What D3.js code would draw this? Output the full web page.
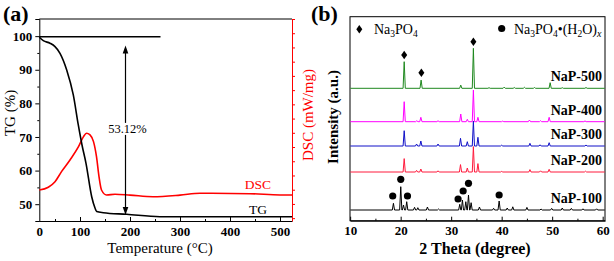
<!DOCTYPE html>
<html><head><meta charset="utf-8">
<script src="https://cdn.jsdelivr.net/npm/d3@7"></script>
<style>
body{margin:0;background:#fff}
svg{display:block}
text{font-family:"Liberation Serif","Times New Roman",serif}
</style>
</head><body>
<svg id="c" width="614" height="261"></svg>
<script>
// ---------- Panel (a): TG / DSC ----------
const tgTemp  = [18.6,26.6,40,50,60,73.4,86.6,96.6,104,112,123.4,130,133.4,146.6,193.4,260,524];
const tgValue = [99.67,98.66,97.89,96.88,94.9,89.94,82.5,73.57,67.62,62.17,52.23,48.87,47.83,47.47,47.0,46.28,46.28];
const dscTemp  = [18.6,36.6,50,63,80,97,107,113,120,127,133,138,143,153,170,200,246,300,340,440,500,524];
const dscValue = [1.98,2.17,2.56,3.27,4.09,5.02,5.73,5.97,5.85,5.38,4.32,2.92,1.98,1.63,1.68,1.62,1.51,1.62,1.75,1.72,1.63,1.63];
const tempTickValues = [18.6,100,200,300,400,500];
const tempTickLabels = ["0","100","200","300","400","500"];
const tgTicks = [50,60,70,80,90,100];
const refLineTemp = [18.6,261];
const refLineTG = 99.8;
const arrowTemp = 191, arrowTop = 97.2, arrowBottom = 46.8, lossLabelTG = 72.4;
const massLoss = "53.12%";
const curveLabelTemp = 456;

// ---------- Panel (b): XRD ----------
const thetaTicks = [10,20,30,40,50,60];
const sampleNames = ["NaP-100","NaP-200","NaP-300","NaP-400","NaP-500"];
const sampleOffsets = [5.35,24.35,37.35,49.5,66.2];
const peaks100 = [[18.57,3.35],[20.02,11.65],[20.56,2.5],[21.2,4.15],[22.75,1.35],[23.4,1.15],[25.3,1.5],[27.5,0.5],[31.7,2.85],[32.23,5],[32.9,4.15],[33.43,7.5],[33.95,3.65],[35.6,1.5],[38.4,0.85],[39.5,4.5],[41.1,1],[42.2,1.6],[45.0,1.3],[47.8,0.5],[49.9,0.8],[52.0,1],[53.8,0.8],[56.1,0.6],[58.8,0.6]];
const peaks200 = [[20.7,6.7],[23.15,0.8],[24.0,1.5],[27.4,0.6],[31.85,3.7],[33.2,2.0],[34.4,12.7],[35.3,4.2],[40.0,0.3],[45.6,1.2],[47.7,0.6],[49.4,1.35],[56.6,0.4]];
const peaks300 = [[20.7,7.65],[23.15,1.0],[24.0,2.5],[27.4,1.0],[31.85,3.85],[33.2,2.15],[34.4,12.5],[35.3,4.35],[40.0,0.4],[45.6,1.35],[47.6,0.6],[49.4,1.65],[56.7,0.5]];
const peaks400 = [[20.7,10.0],[23.2,0.5],[24.0,2.2],[27.4,0.5],[31.9,3.85],[33.2,1.2],[34.4,15.8],[35.3,2.2],[40.2,0.3],[45.5,0.85],[47.7,0.5],[49.4,2.2],[56.5,0.4]];
const peaks500 = [[20.7,13.3],[24.05,4.1],[31.9,1.6],[34.4,20.0],[37.5,0.3],[40.5,0.6],[42.5,0.4],[44.5,0.5],[46.5,0.4],[49.6,2.8],[52.0,0.3],[56.7,0.4]];
const samplePeaks = [peaks100,peaks200,peaks300,peaks400,peaks500];
const sampleColors = ["#000000","#ff1a3c","#1010c8","#ff00ff","#1e881e"];
const diamondMarks = [[20.7,82.85],[24.1,74.0],[34.4,89.5]];
const circleMarks = [[18.43,12.35],[20.02,20.7],[21.35,12.35],[31.37,10.85],[32.37,14.85],[33.43,18.7],[39.5,12.85]];

const svg = d3.select("#c");
const serif = '"Liberation Serif","Times New Roman",serif';

// ===== Panel (a) =====
const ax = d3.scaleLinear().domain([18.6,524]).range([39.3,292]);
const ay = d3.scaleLinear().domain([45,105.1]).range([221,19]);
const ay2 = d3.scaleLinear().domain([-0.2,14]).range([221,19]);
const ga = svg.append("g");

ga.append("line").attr("x1",ax.range()[0]).attr("x2",ax.range()[1]).attr("y1",19).attr("y2",19)
  .attr("stroke","#000").attr("stroke-width",1);

const leftAx = ga.append("g").attr("transform","translate(39.3,0)")
  .call(d3.axisLeft(ay).tickValues(tgTicks).tickSize(4).tickPadding(3).tickFormat(d3.format("d")));
ga.append("g").attr("transform","translate(39.3,0)")
  .call(d3.axisLeft(ay).tickValues(d3.range(45,105,5).filter(v=>v%10!==0)).tickSize(2).tickFormat(""))
  .call(g=>g.select(".domain").remove());
const botAx = ga.append("g").attr("transform","translate(0,221)")
  .call(d3.axisBottom(ax).tickValues(tempTickValues).tickSizeInner(-4).tickSizeOuter(0).tickPadding(6)
  .tickFormat((d,i)=>tempTickLabels[i]));
botAx.selectAll(".tick line").filter((d,i)=>i===0).remove();
ga.append("g").attr("transform","translate(0,221)")
  .call(d3.axisBottom(ax).tickValues([50,150,250,350,450]).tickSizeInner(-2).tickSizeOuter(0).tickFormat(""))
  .call(g=>g.select(".domain").remove());
[leftAx,botAx].forEach(g=>{
  g.selectAll("text").attr("font-family",serif).attr("font-weight","bold").attr("font-size",13).attr("fill","#000");
  g.selectAll("line,path").attr("stroke","#000");
});
const rightAx = ga.append("g").attr("transform","translate(292,0)")
  .call(d3.axisRight(ay2).tickValues(d3.range(0,15,1)).tickSize(3).tickSizeOuter(0).tickFormat(""));
rightAx.selectAll("line,path").attr("stroke","#ff0000");

ga.append("line").attr("x1",ax(refLineTemp[0])).attr("x2",ax(refLineTemp[1]))
  .attr("y1",ay(refLineTG)).attr("y2",ay(refLineTG)).attr("stroke","#000").attr("stroke-width",1.6);

const tgData = tgTemp.map((t,i)=>[t,tgValue[i]]);
const dscData = dscTemp.map((t,i)=>[t,dscValue[i]]);
ga.append("path").datum(dscData)
  .attr("d",d3.line().x(d=>ax(d[0])).y(d=>ay2(d[1])).curve(d3.curveMonotoneX))
  .attr("fill","none").attr("stroke","#ff0000").attr("stroke-width",1.6);
ga.append("path").datum(tgData)
  .attr("d",d3.line().x(d=>ax(d[0])).y(d=>ay(d[1])).curve(d3.curveMonotoneX))
  .attr("fill","none").attr("stroke","#000").attr("stroke-width",1.6);

const axp = ax(arrowTemp), yLab = ay(lossLabelTG);
const yTop = ay(arrowTop), yBot = ay(arrowBottom);
ga.append("line").attr("x1",axp).attr("x2",axp).attr("y1",yLab-6).attr("y2",yTop+6).attr("stroke","#000").attr("stroke-width",1.2);
ga.append("line").attr("x1",axp).attr("x2",axp).attr("y1",yLab+6).attr("y2",yBot-6).attr("stroke","#000").attr("stroke-width",1.2);
ga.append("path").attr("d",`M${axp},${yTop}L${axp-2.8},${yTop+8}L${axp+2.8},${yTop+8}Z`).attr("fill","#000");
ga.append("path").attr("d",`M${axp},${yBot}L${axp-2.8},${yBot-8}L${axp+2.8},${yBot-8}Z`).attr("fill","#000");
ga.append("text").attr("x",axp+2).attr("y",yLab+4).attr("text-anchor","middle").attr("font-size",12.5).text(massLoss);

ga.append("text").attr("x",ax(curveLabelTemp)).attr("y",ay2(1.63)-6).attr("text-anchor","middle").attr("font-size",13.5).attr("fill","#ff0000").text("DSC");
ga.append("text").attr("x",ax(curveLabelTemp)).attr("y",ay(46.28)-3).attr("text-anchor","middle").attr("font-size",13.5).attr("fill","#000").text("TG");

ga.append("text").attr("transform","translate(15,113) rotate(-90)").attr("text-anchor","middle").attr("font-size",15).text("TG (%)");
ga.append("text").attr("transform","translate(313,115) rotate(-90)").attr("text-anchor","middle").attr("font-size",15).attr("fill","#ff0000").text("DSC (mW/mg)");
ga.append("text").attr("x",160).attr("y",253).attr("text-anchor","middle").attr("font-size",15).text("Temperature (°C)");
svg.append("text").attr("x",3).attr("y",21).attr("font-size",22).attr("font-weight","bold").text("(a)");

// ===== Panel (b) =====
const bx = d3.scaleLinear().domain([9.97,60.46]).range([350,605]);
const by = d3.scaleLinear().domain([0,102]).range([220.7,16.7]);
const gb = svg.append("g");
gb.append("rect").attr("x",350).attr("y",16.7).attr("width",255).attr("height",204)
  .attr("fill","none").attr("stroke","#000").attr("stroke-width",1);
const bAx = gb.append("g").attr("transform","translate(0,220.7)")
  .call(d3.axisBottom(bx).tickValues(thetaTicks).tickSizeInner(-4).tickSizeOuter(0).tickPadding(5).tickFormat(d3.format("d")));
bAx.selectAll("text").attr("font-family",serif).attr("font-weight","bold").attr("font-size",13).attr("fill","#000");
bAx.selectAll("line,path").attr("stroke","#000");
gb.append("g").attr("transform","translate(0,220.7)")
  .call(d3.axisBottom(bx).tickValues([15,25,35,45,55]).tickSizeInner(-2).tickSizeOuter(0).tickFormat(""))
  .call(g=>g.select(".domain").remove());

const [tMin,tMax] = [10.05,60.4];
const w = 0.22;
const xrdLine = d3.line().x(d=>bx(d[0])).y(d=>by(d[1]));
samplePeaks.forEach((pk,i)=>{
  const off = sampleOffsets[i];
  const pts = [[tMin,off]];
  pk.slice().sort((a,b)=>a[0]-b[0]).forEach(([p,h])=>{
    pts.push([p-w,off],[p,off+h],[p+w,off]);
  });
  pts.push([tMax,off]);
  gb.append("path").datum(pts).attr("d",xrdLine).attr("fill","none")
    .attr("stroke",sampleColors[i]).attr("stroke-width",1).attr("stroke-linejoin","round");
});
sampleNames.forEach((n,i)=>{
  gb.append("text").attr("x",602).attr("y",by(sampleOffsets[i])-7).attr("text-anchor","end")
    .attr("font-size",14).attr("font-weight","bold").text(n);
});

const diamond = (cx,cy,hw,hh)=>`M${cx},${cy-hh}L${cx+hw},${cy}L${cx},${cy+hh}L${cx-hw},${cy}Z`;
diamondMarks.forEach(([t,v])=>{
  gb.append("path").attr("d",diamond(bx(t),by(v),3,4.2)).attr("fill","#000");
});
circleMarks.forEach(([t,v])=>{
  gb.append("circle").attr("cx",bx(t)).attr("cy",by(v)).attr("r",3.6).attr("fill","#000");
});

gb.append("path").attr("d",diamond(359.3,29.3,3,4.2)).attr("fill","#000");
const l1 = gb.append("text").attr("x",374).attr("y",34).attr("font-size",14);
l1.append("tspan").text("Na");
l1.append("tspan").attr("dy",3).attr("font-size",9.5).text("3");
l1.append("tspan").attr("dy",-3).text("PO");
l1.append("tspan").attr("dy",3).attr("font-size",9.5).text("4");
gb.append("circle").attr("cx",501.7).attr("cy",28.5).attr("r",3.6).attr("fill","#000");
const l2 = gb.append("text").attr("x",514).attr("y",34).attr("font-size",14);
l2.append("tspan").text("Na");
l2.append("tspan").attr("dy",3).attr("font-size",9.5).text("3");
l2.append("tspan").attr("dy",-3).text("PO");
l2.append("tspan").attr("dy",3).attr("font-size",9.5).text("4");
l2.append("tspan").attr("dy",-3).text("•(H");
l2.append("tspan").attr("dy",3).attr("font-size",9.5).text("2");
l2.append("tspan").attr("dy",-3).text("O)");
l2.append("tspan").attr("dy",3).attr("font-size",10).attr("font-style","italic").text("x");

gb.append("text").attr("transform","translate(338,117) rotate(-90)").attr("text-anchor","middle")
  .attr("font-size",15).attr("font-weight","bold").text("Intensity (a.u.)");
gb.append("text").attr("x",475).attr("y",254).attr("text-anchor","middle")
  .attr("font-size",16).attr("font-weight","bold").text("2 Theta (degree)");
svg.append("text").attr("x",311).attr("y",21).attr("font-size",22).attr("font-weight","bold").text("(b)");
</script>
</body></html>
